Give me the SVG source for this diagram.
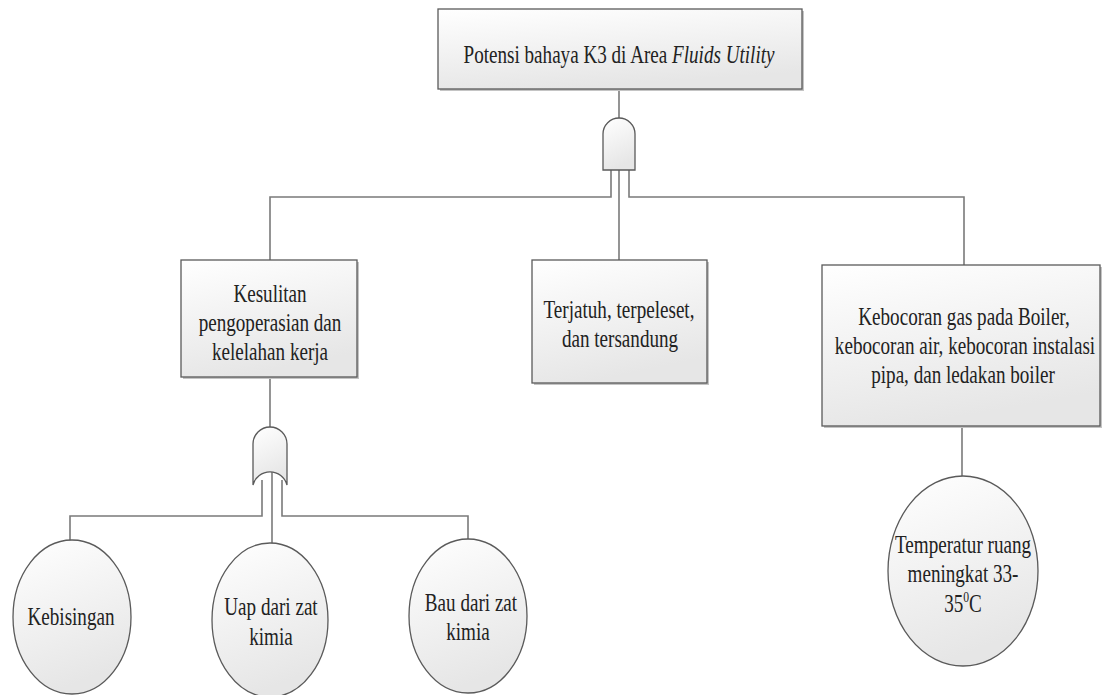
<svg xmlns="http://www.w3.org/2000/svg" width="1102" height="695" viewBox="0 0 1102 695">
<defs>
<linearGradient id="g" x1="0" y1="0" x2="0.3" y2="1">
<stop offset="0" stop-color="#ffffff"/>
<stop offset="1" stop-color="#e6e6e6"/>
</linearGradient>
<style>
.box{fill:url(#g);stroke:#5a5a5a;stroke-width:1.3}
.sh{fill:#c4c4c4}
.el{fill:url(#g);stroke:#5a5a5a;stroke-width:1.3}
.gate{fill:url(#g);stroke:#5a5a5a;stroke-width:1.3}
.c{fill:none;stroke:#7a7a7a;stroke-width:1.6}
.t{font-family:"Liberation Serif","Times New Roman",serif;font-size:24.5px;fill:#222;text-anchor:middle}
</style>
</defs>
<rect width="1102" height="695" fill="#ffffff"/>
<g id="connectors">
<path class="c" d="M619,89 V118"/>
<path class="c" d="M619,170 V260"/>
<path class="c" d="M611,170 V197 H270 V260"/>
<path class="c" d="M629,170 V197 H964 V265"/>
<path class="c" d="M270,377 V427"/>
<path class="c" d="M272,472 V543"/>
<path class="c" d="M262,480 V516 H70 V540"/>
<path class="c" d="M282,480 V516 H468 V540"/>
<path class="c" d="M962,426 V476"/>
</g>
<g id="top">
<rect class="sh" x="440" y="11" width="364" height="80"/>
<rect class="box" x="438" y="9" width="364" height="80"/>
<text class="t" transform="matrix(0.78 0 0 1 619 63)">Potensi bahaya K3 di Area <tspan font-style="italic">Fluids Utility</tspan></text>
</g>
<g id="and-gate">
<path class="gate" d="M603,170 V134 A16,16 0 0 1 635,134 V170 Z"/>
</g>
<g id="box-left">
<rect class="sh" x="183" y="262" width="176" height="117"/>
<rect class="box" x="181" y="260" width="176" height="117"/>
<text class="t" transform="matrix(0.78 0 0 1 270 302)">Kesulitan</text>
<text class="t" transform="matrix(0.78 0 0 1 270 331)">pengoperasian dan</text>
<text class="t" transform="matrix(0.78 0 0 1 270 360)">kelelahan kerja</text>
</g>
<g id="box-mid">
<rect class="sh" x="534" y="262" width="175" height="123"/>
<rect class="box" x="532" y="260" width="175" height="123"/>
<text class="t" transform="matrix(0.78 0 0 1 619 318)">Terjatuh, terpeleset,</text>
<text class="t" transform="matrix(0.78 0 0 1 620 347)">dan tersandung</text>
</g>
<g id="box-right">
<rect class="sh" x="824" y="267" width="278" height="161"/>
<rect class="box" x="822" y="265" width="278" height="161"/>
<text class="t" transform="matrix(0.78 0 0 1 964 325)">Kebocoran gas pada Boiler,</text>
<text class="t" transform="matrix(0.78 0 0 1 965 354)">kebocoran air, kebocoran instalasi</text>
<text class="t" transform="matrix(0.78 0 0 1 963 383)">pipa, dan ledakan boiler</text>
</g>
<g id="or-gate">
<path class="gate" d="M253,485 V444 A17,17 0 0 1 287,444 V485 A17.6,17.6 0 0 0 253,485 Z"/>
</g>
<g id="ev-kebisingan">
<ellipse class="el" cx="72" cy="617" rx="59" ry="77"/>
<text class="t" transform="matrix(0.78 0 0 1 71 625)">Kebisingan</text>
</g>
<g id="ev-uap">
<ellipse class="el" cx="270" cy="620" rx="58" ry="77"/>
<text class="t" transform="matrix(0.78 0 0 1 271 615)">Uap dari zat</text>
<text class="t" transform="matrix(0.78 0 0 1 271 645)">kimia</text>
</g>
<g id="ev-bau">
<ellipse class="el" cx="468" cy="616" rx="59" ry="77"/>
<text class="t" transform="matrix(0.78 0 0 1 471 611)">Bau dari zat</text>
<text class="t" transform="matrix(0.78 0 0 1 468 640)">kimia</text>
</g>
<g id="ev-temp">
<ellipse class="el" cx="963" cy="571" rx="75" ry="95"/>
<text class="t" transform="matrix(0.78 0 0 1 963 553)">Temperatur ruang</text>
<text class="t" transform="matrix(0.78 0 0 1 963 582)">meningkat 33-</text>
<text class="t" transform="matrix(0.78 0 0 1 963 612)">35<tspan font-size="15" dy="-10">0</tspan><tspan dy="10">C</tspan></text>
</g>
</svg>
